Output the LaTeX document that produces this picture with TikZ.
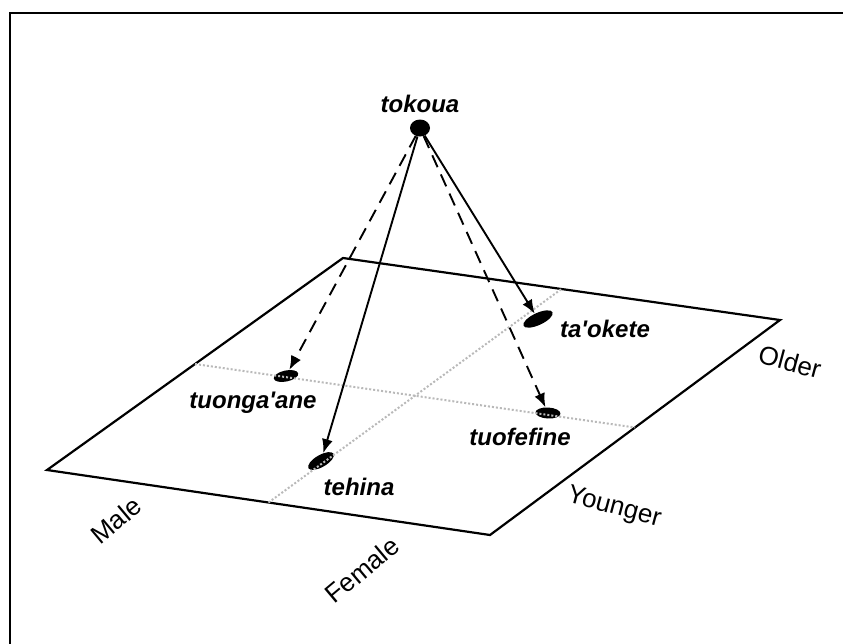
\documentclass[tikz,border=0pt]{standalone}
\usepackage{fontspec}
\setmainfont{Liberation Sans}
\usetikzlibrary{shapes.geometric,arrows.meta,calc}
\tikzset{
  kin/.style={ellipse,fill,inner sep=0pt},
  term/.style={font=\bfseries\itshape\fontsize{24}{24}\selectfont,anchor=base,inner sep=0pt},
  axislabel/.style={font=\fontsize{26}{26}\selectfont,inner sep=0pt},
  link/.style={-{Latex[length=14pt,width=11pt]},line width=1.9pt},
  guess/.style={link,dash pattern=on 13pt off 8pt},
  gridline/.style={gray!55,line width=2pt,dotted}
}

\begin{document}
\begin{tikzpicture}[x=1pt,y=-1pt]
  \useasboundingbox (0,0) rectangle (843,643);

  % -- Outer frame (only top and left edges fall inside the page) --
  \draw[line width=2.5pt] (10,660) -- (10,13) -- (860,13);

  % -- Corners of the plane --
  \coordinate (left)  at (47,470);
  \coordinate (back)  at (343,258);
  \coordinate (right) at (780,320);
  \coordinate (front) at (490,535);

  % -- Draw the plane --
  \draw[line width=2.2pt,line join=miter] (left) -- (back) -- (right) -- (front) -- cycle;

  % -- Kin terms as small discs on the plane --
  \node[kin,minimum width=32pt,minimum height=12pt,rotate=25] (taokete) at (538,319) {};
  \node[kin,minimum width=25pt,minimum height=11pt,rotate=12] (tuonga)  at (286,376) {};
  \node[kin,minimum width=29pt,minimum height=12pt,rotate=30] (tehina)  at (321,461) {};
  \node[kin,minimum width=25pt,minimum height=11pt,rotate=-3] (tuofe)   at (548,413) {};

  % -- Dotted grid lines through the middle of the plane --
  \draw[gridline] ($(left)!0.5!(back)$) -- ($(front)!0.5!(right)$);
  \draw[gridline] ($(left)!0.5!(front)$) -- ($(back)!0.5!(right)$);

  % -- Apex term --
  \node[kin,minimum width=20pt,minimum height=17pt] (apex) at (420,128) {};
  \node[term] (apexLbl) at (420,112) {tokoua};

  % -- Arrows from the apex --
  \draw[guess] (apex) -- (tuonga);
  \draw[link]  (apex) -- (tehina);
  \draw[guess] (apex) -- (tuofe);
  \draw[link]  (apex) -- (taokete);

  % -- Term labels --
  \node[term] (taoketeLbl) at (605,337) {ta\textquotesingle okete};
  \node[term] (tuongaLbl)  at (253,408) {tuonga\textquotesingle ane};
  \node[term] (tehinaLbl)  at (359,495) {tehina};
  \node[term] (tuofeLbl)   at (520,445) {tuofefine};

  % -- Axis labels --
  \node[axislabel,rotate=40]  (maleLbl)    at (116,520) {Male};
  \node[axislabel,rotate=40]  (femaleLbl)  at (362,570) {Female};
  \node[axislabel,rotate=-15] (youngerLbl) at (614,508) {Younger};
  \node[axislabel,rotate=-15] (olderLbl)   at (790,362) {Older};

\end{tikzpicture}
\end{document}
